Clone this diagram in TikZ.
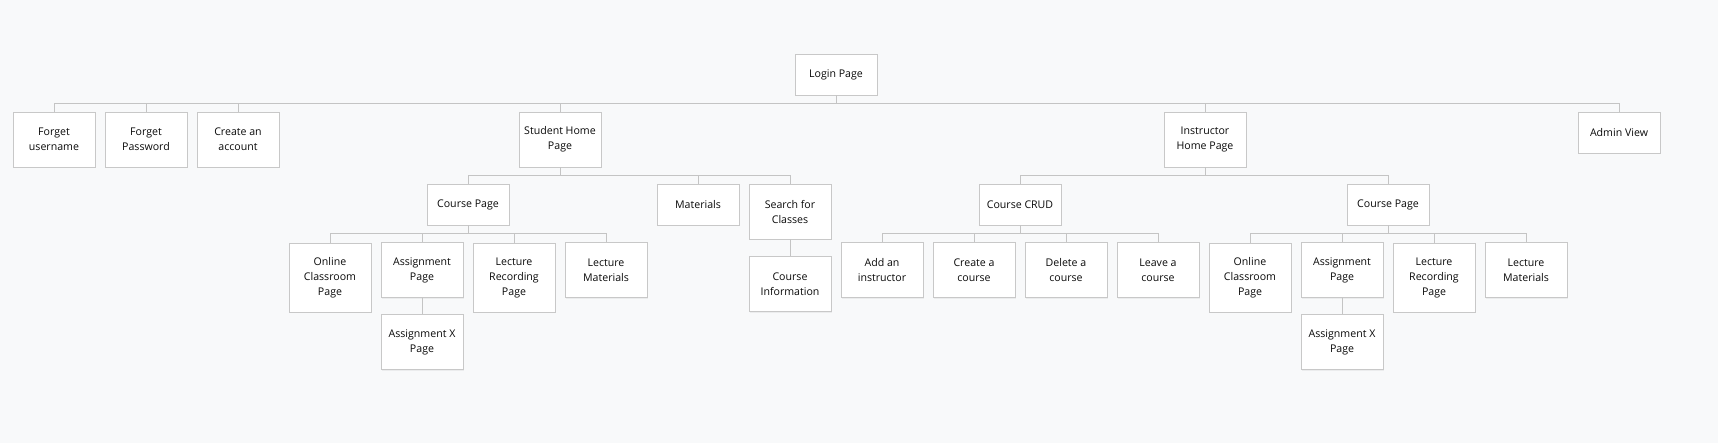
\documentclass[tikz,border=0pt]{standalone}
\usepackage{fontspec}
\setmainfont{Open Sans}
\usetikzlibrary{shadows}
\definecolor{bgc}{HTML}{F8F9FA}
\definecolor{boxline}{HTML}{C8C8C8}
\definecolor{conn}{HTML}{C4C4C4}
\definecolor{txt}{HTML}{0A0A0A}
\tikzset{
  box/.style={draw=boxline, line width=0.9pt, fill=white, minimum width=82pt,
    inner sep=0pt, align=center, text=txt,
    font=\fontsize{10.6}{15}\selectfont,
    drop shadow={opacity=0.10, shadow xshift=1pt, shadow yshift=-1.5pt}},
  h1/.style={box, minimum height=41pt},
  h2/.style={box, minimum height=55pt},
  h3/.style={box, minimum height=69pt},
  link/.style={draw=conn, line width=1pt}
}
\begin{document}
\begin{tikzpicture}[x=1pt,y=-1pt]
\fill[bgc] (0,0) rectangle (1718,443);
\useasboundingbox (0,0) rectangle (1718,443);
% level 0
\node[h1] (login) at (836,74.5) {Login Page};
% level 1
\node[h2] (fu) at (54,139.5) {Forget\\username};
\node[h2] (fp) at (146,139.5) {Forget\\Password};
\node[h2] (ca) at (238,139.5) {Create an\\account};
\node[h2] (sh) at (560,139.5) {Student Home\\Page};
\node[h2] (ih) at (1205,139.5) {Instructor\\Home Page};
\node[h1] (av) at (1619,132.5) {Admin View};
% student level 2
\node[h1] (scp) at (468,204.5) {Course Page};
\node[h1] (mat) at (698,204.5) {Materials};
\node[h2] (sfc) at (790,211.5) {Search for\\Classes};
\node[h2] (ci) at (790,284) {Course\\Information};
% student level 3
\node[h3] (soc) at (330,277.5) {Online\\Classroom\\Page};
\node[h2] (sap) at (422,270) {Assignment\\Page};
\node[h2] (sax) at (422,342) {Assignment X\\Page};
\node[h3] (slr) at (514,277.5) {Lecture\\Recording\\Page};
\node[h2] (slm) at (606,270) {Lecture\\Materials};
% instructor level 2
\node[h1] (crud) at (1020,204.5) {Course CRUD};
\node[h1] (icp) at (1388,204.5) {Course Page};
% instructor level 3
\node[h2] (add) at (882,270) {Add an\\instructor};
\node[h2] (cre) at (974,270) {Create a\\course};
\node[h2] (del) at (1066,270) {Delete a\\course};
\node[h2] (lea) at (1158,270) {Leave a\\course};
\node[h3] (ioc) at (1250,277.5) {Online\\Classroom\\Page};
\node[h2] (iap) at (1342,270) {Assignment\\Page};
\node[h2] (iax) at (1342,342) {Assignment X\\Page};
\node[h3] (ilr) at (1434,277.5) {Lecture\\Recording\\Page};
\node[h2] (ilm) at (1526,270) {Lecture\\Materials};
% connectors
\foreach \c in {fu,fp,ca,sh,ih,av}
  \draw[link] (login.south) -- (login.south |- 0,104) -| (\c.north);
\foreach \c in {scp,mat,sfc}
  \draw[link] (sh.south) -- (sh.south |- 0,176) -| (\c.north);
\foreach \c in {soc,sap,slr,slm}
  \draw[link] (scp.south) -- (scp.south |- 0,234) -| (\c.north);
\draw[link] (sap.south) -- (sax.north);
\draw[link] (sfc.south) -- (ci.north);
\foreach \c in {crud,icp}
  \draw[link] (ih.south) -- (ih.south |- 0,176) -| (\c.north);
\foreach \c in {add,cre,del,lea}
  \draw[link] (crud.south) -- (crud.south |- 0,234) -| (\c.north);
\foreach \c in {ioc,iap,ilr,ilm}
  \draw[link] (icp.south) -- (icp.south |- 0,234) -| (\c.north);
\draw[link] (iap.south) -- (iax.north);
\end{tikzpicture}
\end{document}
